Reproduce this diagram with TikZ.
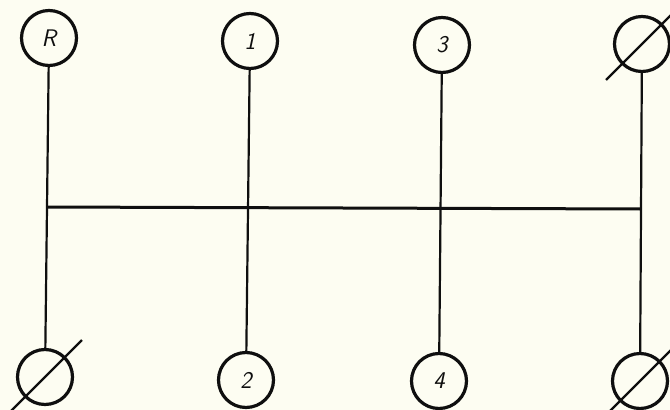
\documentclass[tikz,border=0pt]{standalone}
\usetikzlibrary{calc}
\definecolor{paper}{RGB}{253,253,242}
\definecolor{ink}{RGB}{15,15,15}
\begin{document}
\begin{tikzpicture}[x=1pt,y=-1pt,
  term/.style={circle, draw=ink, line width=3.2pt, minimum size=55pt, inner sep=0pt,
               font=\sffamily\slshape\fontsize{24}{24}\selectfont, text=ink},
  wire/.style={draw=ink, line width=2.2pt},
  bus/.style={draw=ink, line width=3pt},
  slashline/.style={draw=ink, line width=2.2pt}]
\fill[paper] (0,0) rectangle (670,410);
\useasboundingbox (0,0) rectangle (670,410);
% terminals
\node[term] (R)  at (49,38)  {R};
\node[term] (n1) at (250,41) {1};
\node[term] (n3) at (442,45) {3};
\node[term] (tz) at (642,44) {};
\node[term] (bz) at (45,377) {};
\node[term] (n2) at (246,380) {2};
\node[term] (n4) at (439,381) {4};
\node[term] (rz) at (640,381) {};
% slashes
\draw[slashline] ($(tz)+(-36,36)$) -- ($(tz)+(36,-36)$);
\draw[slashline] ($(bz)+(-37,37)$) -- ($(bz)+(37,-37)$);
\draw[slashline] ($(rz)+(-36,36)$) -- ($(rz)+(36,-36)$);
% vertical wires
\draw[wire] (R) -- (bz);
\draw[wire] (n1) -- (n2);
\draw[wire] (n3) -- (n4);
\draw[wire] (tz) -- (rz);
% cross bar
\coordinate (hl) at (47,207);
\coordinate (hr) at (641,209);
\draw[bus] (hl) -- (hr);
\end{tikzpicture}
\end{document}
